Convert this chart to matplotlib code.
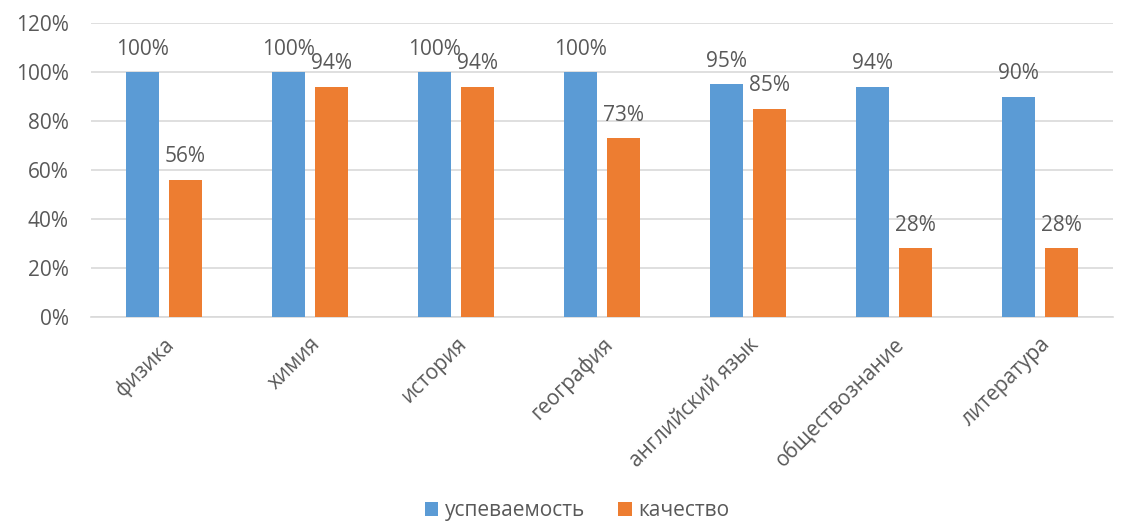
import matplotlib
matplotlib.use("Agg")
import matplotlib.pyplot as plt
import numpy as np

subjects = ["физика", "химия", "история", "география",
            "английский язык", "обществознание", "литература"]
uspev = [100, 100, 100, 100, 95, 94, 90]
kachestvo = [56, 94, 94, 73, 85, 28, 28]
series_names = ["успеваемость", "качество"]

plt.rcParams['font.family'] = ['Open Sans', 'DejaVu Sans']
TEXT = "#595959"
FS = 15

fig = plt.figure(figsize=(11.31, 5.24), dpi=100)
ax = fig.add_axes([0.0805, 0.395, 0.9035, 0.561])

x = np.arange(len(subjects))
w = 0.226
gap = 0.068
off = (w + gap) / 2
b1 = ax.bar(x - off, uspev, w, color="#5B9BD5", label=series_names[0], zorder=3)
b2 = ax.bar(x + off, kachestvo, w, color="#ED7D31", label=series_names[1], zorder=3)

for bars, vals in ((b1, uspev), (b2, kachestvo)):
    for rect, v in zip(bars, vals):
        ax.annotate(f"{v}%", (rect.get_x() + rect.get_width() / 2, v),
                    xytext=(0, 9), textcoords="offset points",
                    ha="center", va="bottom", fontsize=FS, color=TEXT)

ax.set_xlim(-0.5, len(subjects) - 0.5)
ax.set_ylim(0, 120)
ax.set_yticks(range(0, 121, 20))
ax.set_yticklabels([f"{t}%" for t in range(0, 121, 20)])
ax.set_xticks(x)
ax.set_xticklabels(subjects, rotation=45, ha="right", rotation_mode="anchor")
ax.tick_params(axis="both", length=0, labelsize=FS, colors=TEXT)
ax.tick_params(axis="x", pad=12)
ax.tick_params(axis="y", pad=16)
ax.grid(axis="y", color="#D9D9D9", linewidth=1.2, zorder=0)
for s in ["top", "right", "left"]:
    ax.spines[s].set_visible(False)
ax.spines["bottom"].set_color("#D9D9D9")
ax.spines["bottom"].set_linewidth(1.2)

fig.legend(loc="lower center", bbox_to_anchor=(0.51, -0.03), ncol=2, frameon=False,
           fontsize=FS, handlelength=0.65, handleheight=0.65, handletextpad=0.3,
           columnspacing=1.6, labelcolor=TEXT)

fig.savefig("out.png", dpi=100)
